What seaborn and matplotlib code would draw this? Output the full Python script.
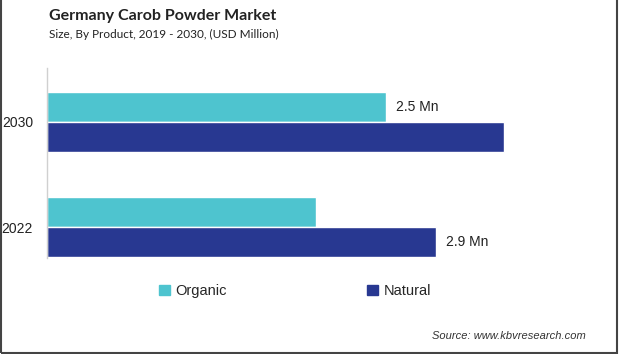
import matplotlib
matplotlib.use("Agg")
import matplotlib.pyplot as plt
from matplotlib.patches import Rectangle
import pandas as pd
import seaborn as sns

# values (USD Million)
years = ["2030", "2022"]
organic = [2.53, 2.01]
natural = [3.41, 2.9]
organic_labels = ["2.5 Mn", ""]
natural_labels = ["", "2.9 Mn"]
products = ["Organic", "Natural"]
colors = ["#4EC4CF", "#283891"]

df = pd.DataFrame({
    "year": years * 2,
    "value": organic + natural,
    "product": ["Organic"] * len(years) + ["Natural"] * len(years),
})

sns.set_style("white")
plt.rcParams["font.family"] = ["Liberation Sans", "DejaVu Sans"]

fig = plt.figure(figsize=(6.19, 3.54), dpi=100)
ax = fig.add_axes([47 / 619, 1 - 258 / 354, 543 / 619, 190 / 354])

sns.barplot(data=df, y="year", x="value", hue="product", order=years,
            hue_order=products, palette=colors, width=0.58, orient="h",
            saturation=1, ax=ax, legend=False)

ax.bar_label(ax.containers[0], labels=organic_labels, padding=7, fontsize=10, color="#222222")
ax.bar_label(ax.containers[1], labels=natural_labels, padding=7, fontsize=10, color="#222222")

ax.set_xlim(0, 4.05)
ax.set_ylim(1.295, -0.514)
ax.set_xticks([])
ax.set_xlabel("")
ax.set_ylabel("")
ax.tick_params(axis="y", length=0, pad=10, labelsize=10, labelcolor="#222222")
for s in ["top", "right", "bottom"]:
    ax.spines[s].set_visible(False)
ax.spines["left"].set_color("#d0d0d0")
ax.spines["left"].set_linewidth(1)

# legend
handles = [Rectangle((0, 0), 1, 1, color=c) for c in colors]
fig.legend(handles, products, ncol=2, frameon=False, loc="center",
           bbox_to_anchor=(295 / 619, 1 - 291 / 354), fontsize=10.5,
           handlelength=0.75, handleheight=0.75, handletextpad=0.4,
           columnspacing=9.6)

fig.text(49 / 619, 1 - 16 / 354, "Germany Carob Powder Market", fontsize=11.5,
         fontweight="bold", family=["Lato", "DejaVu Sans"], va="center", color="#222222")
fig.text(49 / 619, 1 - 34 / 354, "Size, By Product, 2019 - 2030, (USD Million)", fontsize=8.5,
         family=["Lato", "DejaVu Sans"], va="center", color="#222222")
fig.text(586 / 619, 1 - 336 / 354, "Source: www.kbvresearch.com", fontsize=8,
         style="italic", ha="right", va="center", color="#333333")

fig.patches.append(Rectangle((0.001, 0.003), 0.996, 1.2, transform=fig.transFigure,
                             fill=False, edgecolor="#444444", linewidth=1.5))

fig.savefig("out.png", dpi=100)
